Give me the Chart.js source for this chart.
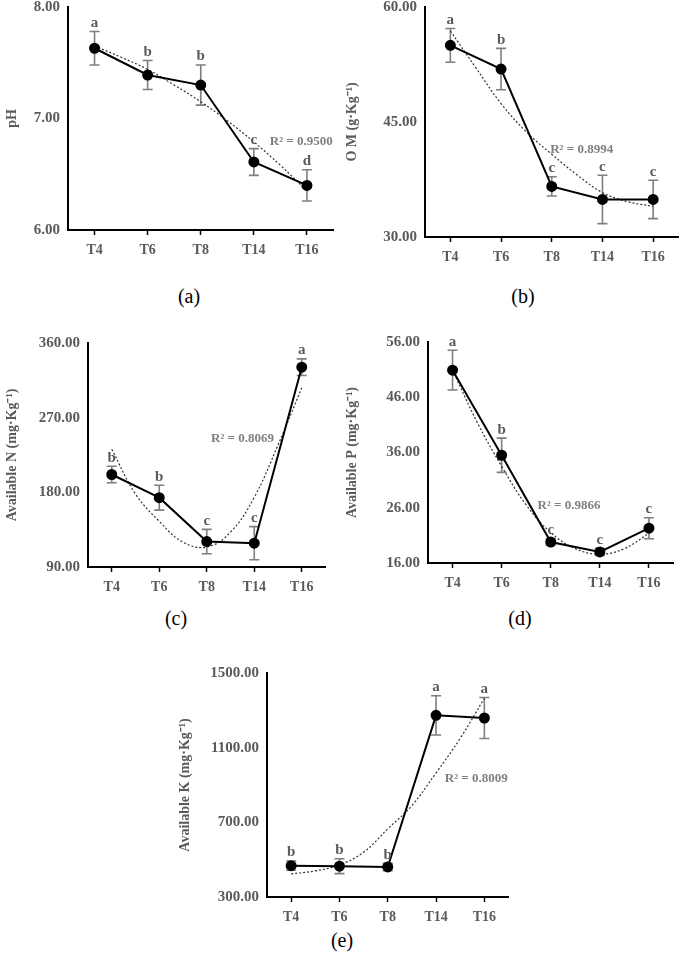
<!DOCTYPE html>
<html>
<head>
<meta charset="utf-8">
<script src="https://cdn.jsdelivr.net/npm/chart.js@4.4.1/dist/chart.umd.min.js"></script>
<style>
  body { margin: 0; width: 685px; height: 957px; background: #fff; position: relative; overflow: hidden; }
  canvas { position: absolute; }
  .cap { position: absolute; font-family: "Liberation Serif", "Times New Roman", serif; font-size: 20px; color: #000; transform: translate(-50%, -50%); }
</style>
</head>
<body>
<div class="cap" style="left:189px; top:296px">(a)</div>
<div class="cap" style="left:523px; top:296px">(b)</div>
<div class="cap" style="left:176px; top:618px">(c)</div>
<div class="cap" style="left:520px; top:618px">(d)</div>
<div class="cap" style="left:342px; top:940px">(e)</div>

<script>
// sampling dates and trendline read positions
const categories = ["T4", "T6", "T8", "T14", "T16"];
const trendSteps = [0, 0.5, 1, 1.5, 2, 2.5, 3, 3.5, 4];

// (a) pH
const phMean = [7.63, 7.39, 7.30, 6.61, 6.40];
const phErr = [0.15, 0.13, 0.18, 0.12, 0.14];
const phLetters = ["a", "b", "b", "c", "d"];
const phTrend = [7.65, 7.55, 7.44, 7.30, 7.15, 6.98, 6.79, 6.58, 6.35];

// (b) organic matter
const omMean = [55.0, 51.9, 36.6, 34.9, 34.9];
const omErr = [2.2, 2.7, 1.25, 3.15, 2.5];
const omLetters = ["a", "b", "c", "c", "c"];
const omTrend = [56.9, 52.1, 47.4, 43.7, 40.8, 38.1, 35.8, 34.6, 34.0];

// (c) available N
const nMean = [201.5, 173.6, 120.7, 118.7, 330.9];
const nErr = [10, 15, 14.7, 20, 10];
const nLetters = ["b", "b", "c", "c", "a"];
const nTrend = [232, 178, 145, 120, 114, 132, 174, 237, 306];

// (d) available P
const pMean = [50.9, 35.5, 19.8, 18.0, 22.3];
const pErr = [3.6, 3.1, 0.6, 0.65, 1.9];
const pLetters = ["a", "b", "c", "c", "c"];
const pTrend = [50.9, 41.5, 33.5, 26.5, 21.5, 18.6, 17.6, 18.6, 21.4];

// (e) available K
const kMean = [468, 465, 461, 1273, 1259];
const kErr = [25, 40, 20, 105, 110];
const kLetters = ["b", "b", "b", "a", "a"];
const kTrend = [424, 440, 472, 540, 665, 790, 965, 1150, 1365];

const rSquared = ["0.9500", "0.8994", "0.8069", "0.9866", "0.8009"];

const serif = '"Liberation Serif", "Times New Roman", serif';

function makePanel(p) {
    const canvas = document.createElement("canvas");
    canvas.width = p.w;
    canvas.height = p.h;
    canvas.style.left = p.left + "px";
    canvas.style.top = p.top + "px";
    document.body.appendChild(canvas);

    // error bars, significance letters and R² text
    const extras = {
        id: "extras",
        beforeDatasetsDraw(chart) {
            const ctx = chart.ctx, xs = chart.scales.x, ys = chart.scales.y;
            ctx.save();
            ctx.strokeStyle = "#7f7f7f";
            ctx.lineWidth = 1.6;
            p.mean.forEach((m, i) => {
                const x = xs.getPixelForValue(i);
                const yt = ys.getPixelForValue(m + p.err[i]);
                const yb = ys.getPixelForValue(m - p.err[i]);
                ctx.beginPath();
                ctx.moveTo(x, yt); ctx.lineTo(x, yb);
                ctx.moveTo(x - 5, yt); ctx.lineTo(x + 5, yt);
                ctx.moveTo(x - 5, yb); ctx.lineTo(x + 5, yb);
                ctx.stroke();
            });
            ctx.restore();
        },
        afterDraw(chart) {
            const ctx = chart.ctx, xs = chart.scales.x, ys = chart.scales.y;
            ctx.save();
            ctx.font = "bold 15px " + serif;
            ctx.fillStyle = "#5a5a5a";
            ctx.textAlign = "center";
            ctx.textBaseline = "bottom";
            p.mean.forEach((m, i) => {
                ctx.fillText(p.letters[i], xs.getPixelForValue(i), ys.getPixelForValue(m + p.err[i]) - 1);
            });
            ctx.font = "bold 13px " + serif;
            ctx.fillStyle = "#7f7f7f";
            ctx.textAlign = "left";
            ctx.textBaseline = "middle";
            ctx.fillText("R² = " + p.r2, xs.getPixelForValue(p.r2At[0]), ys.getPixelForValue(p.r2At[1]));
            ctx.restore();
        }
    };

    new Chart(canvas, {
        type: "line",
        data: {
            datasets: [
                {
                    data: p.mean.map((v, i) => ({ x: i, y: v })),
                    borderColor: "#000",
                    borderWidth: 2,
                    pointRadius: 4.5,
                    pointBackgroundColor: "#000",
                    pointBorderColor: "#000",
                    tension: 0,
                },
                {
                    data: p.trend.map((v, i) => ({ x: trendSteps[i], y: v })),
                    borderColor: "#333",
                    borderWidth: 1.2,
                    borderDash: [2, 2],
                    pointRadius: 0,
                    tension: 0.4,
                },
            ],
        },
        options: {
            responsive: false,
            animation: false,
            events: [],
            layout: { padding: { top: 15, right: 2, left: 0, bottom: 0 } },
            plugins: { legend: { display: false }, tooltip: { enabled: false } },
            scales: {
                x: {
                    type: "linear",
                    min: -0.5,
                    max: 4.5,
                    afterBuildTicks: (s) => { s.ticks = categories.map((c, i) => ({ value: i })); },
                    afterFit: (s) => { s.height = 30; },
                    ticks: {
                        callback: (v) => categories[v] ?? "",
                        font: { family: serif, size: 14, weight: "bold" },
                        color: "#5a5a5a",
                        padding: 7,
                        maxRotation: 0,
                    },
                    grid: { drawOnChartArea: false, drawTicks: true, tickLength: 5, tickColor: "#000", tickWidth: 1.5 },
                    border: { color: "#000", width: 2 },
                },
                y: {
                    min: p.min,
                    max: p.max,
                    afterFit: (s) => { s.width = p.yw; },
                    ticks: {
                        stepSize: p.step,
                        callback: (v) => v.toFixed(2),
                        font: { family: serif, size: 15, weight: "bold" },
                        color: "#5a5a5a",
                        padding: 8,
                    },
                    grid: { display: false, drawTicks: false },
                    border: { color: "#000", width: 2 },
                    title: {
                        display: true,
                        text: p.title,
                        font: { family: serif, size: 14, weight: "bold" },
                        color: "#5a5a5a",
                        padding: { top: 4, bottom: 0 },
                    },
                },
            },
        },
        plugins: [extras],
    });
}

makePanel({ left: 0, top: -10, w: 340, h: 270, yw: 68,
    mean: phMean, err: phErr, letters: phLetters, trend: phTrend, r2: rSquared[0], r2At: [3.3, 6.79],
    min: 6, max: 8, step: 1, title: "pH" });

makePanel({ left: 340, top: -10, w: 345, h: 277, yw: 85,
    mean: omMean, err: omErr, letters: omLetters, trend: omTrend, r2: rSquared[1], r2At: [1.97, 41.4],
    min: 30, max: 60, step: 15, title: "O M (g·Kg⁻¹)" });

makePanel({ left: 0, top: 326, w: 332, h: 271, yw: 88,
    mean: nMean, err: nErr, letters: nLetters, trend: nTrend, r2: rSquared[2], r2At: [2.09, 245],
    min: 90, max: 360, step: 90, title: "Available N (mg·Kg⁻¹)" });

makePanel({ left: 340, top: 325, w: 340, h: 268, yw: 88,
    mean: pMean, err: pErr, letters: pLetters, trend: pTrend, r2: rSquared[3], r2At: [1.73, 26.4],
    min: 16, max: 56, step: 10, title: "Available P (mg·Kg⁻¹)" });

makePanel({ left: 173, top: 656, w: 342, h: 271, yw: 94,
    mean: kMean, err: kErr, letters: kLetters, trend: kTrend, r2: rSquared[4], r2At: [3.18, 932],
    min: 300, max: 1500, step: 400, title: "Available K (mg·Kg⁻¹)" });
</script>
</body>
</html>
